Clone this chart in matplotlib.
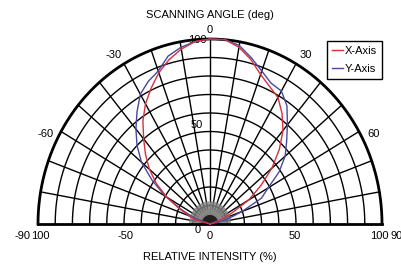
import numpy as np
from matplotlib import pyplot as plt
from matplotlib.lines import Line2D

# radiation pattern, angle in degrees, relative intensity in %
x_angles = [-90, -75, -70, -65, -60, -55, -50, -45, -40, -35, -30, -25, -20, -15, -10, -5,
            0, 5, 10, 15, 20, 25, 30, 35, 40, 45, 50, 55, 60, 65, 70, 90]
x_values = [0, 8, 13, 20, 29, 38, 46, 53, 60, 68, 75, 81, 87, 92, 96, 99,
            100, 100, 97, 92, 86, 82, 79, 73, 66, 57, 47, 36, 26, 14, 6, 0]

y_angles = [-90, -70, -65, -60, -55, -50, -45, -40, -35, -30, -25, -20, -15, -10, -5,
            0, 5, 10, 15, 20, 25, 30, 35, 40, 45, 50, 55, 60, 65, 70, 75, 80, 90]
y_values = [0, 10, 18, 30, 41, 52, 60, 67, 74, 81, 85, 88, 94, 97, 99,
            100, 100, 98, 93, 88, 84, 83, 78, 70, 63, 57, 49, 39, 33, 20, 11, 4, 0]

angle_ticks = [-60, -30, 0, 30, 60]
intensity_ticks = [-100, -50, 0, 50, 100]
intensity_labels = ['100', '-50', '0', '50', '100']

plt.rcParams['font.family'] = ['Liberation Sans', 'DejaVu Sans']
fs = 8

fig = plt.figure(figsize=(4.02, 2.69), dpi=100)
ax = fig.add_axes([38 / 402, 45 / 269, 344 / 402, 185 / 269])
ax.set_xlim(-1, 1)
ax.set_ylim(0, 1)
ax.axis('off')


def to_xy(angle, r):
    a = np.radians(np.asarray(angle, dtype=float))
    r = np.asarray(r, dtype=float) / 100
    return r * np.sin(a), r * np.cos(a)


# grid rings
t = np.linspace(-90, 90, 361)
for ring in range(10, 100, 10):
    gx, gy = to_xy(t, np.full_like(t, ring))
    ax.plot(gx, gy, color='black', lw=1.0, clip_on=False, zorder=1)
gx, gy = to_xy(t, np.full_like(t, 100))
ax.plot(gx, gy, color='black', lw=2.0, clip_on=False, zorder=3)

# spokes
for a in range(-80, 90, 10):
    sx, sy = to_xy([a, a], [8, 100])
    ax.plot(sx, sy, color='black', lw=1.0, clip_on=False, zorder=1)
for a in np.arange(-87.5, 90, 2.5):
    sx, sy = to_xy([a, a], [0, 12])
    ax.plot(sx, sy, color='#808080', lw=0.6, clip_on=False, zorder=1)
cx, cy = to_xy(t, np.full_like(t, 4.5))
ax.fill(cx, cy, color='#202020', zorder=2)

# baseline
ax.plot([-1, 1], [0, 0], color='black', lw=2.0, clip_on=False, zorder=3)

# curves
xx, xy = to_xy(x_angles, x_values)
yx, yy = to_xy(y_angles, y_values)
ax.plot(yx, yy, color='#4848a0', lw=1.0, zorder=4, clip_on=False)
ax.plot(xx, xy, color='#d8303c', lw=1.0, zorder=4, clip_on=False)

# angle labels
for a in angle_ticks:
    lx, ly = to_xy(a * 1.05, 105 if a == 0 else 107)
    ax.text(lx, ly, str(a), ha='center', va='center', fontsize=fs)
ax.text(-1.09, -0.065, '-90', ha='center', va='center', fontsize=fs)
ax.text(1.085, -0.065, '90', ha='center', va='center', fontsize=fs)

# intensity labels
for v, lab in zip(intensity_ticks, intensity_labels):
    ax.text(v / 100 * 0.985, -0.065, lab, ha='center', va='center', fontsize=fs)
ax.text(-0.07, -0.03, '0', ha='center', va='center', fontsize=fs)
ax.text(-0.075, 0.535, '50', ha='center', va='center', fontsize=fs)
ax.text(-0.075, 0.995, '100', ha='center', va='center', fontsize=fs)

fig.text(210 / 402, 1 - 15 / 269, 'SCANNING ANGLE (deg)', ha='center', va='center', fontsize=fs)
fig.text(210 / 402, 1 - 257 / 269, 'RELATIVE INTENSITY (%)', ha='center', va='center', fontsize=fs)

handles = [Line2D([], [], color='#d8303c', lw=1.0), Line2D([], [], color='#4848a0', lw=1.0)]
leg = fig.legend(handles, ['X-Axis', 'Y-Axis'], loc='upper right',
                 bbox_to_anchor=(382 / 402, 1 - 41 / 269), fontsize=fs,
                 handlelength=1.0, handletextpad=0.2, borderpad=0.45,
                 labelspacing=0.7, fancybox=False, framealpha=1, borderaxespad=0)
leg.get_frame().set_edgecolor('black')
leg.get_frame().set_linewidth(1.0)

fig.savefig('out.png', dpi=100)
